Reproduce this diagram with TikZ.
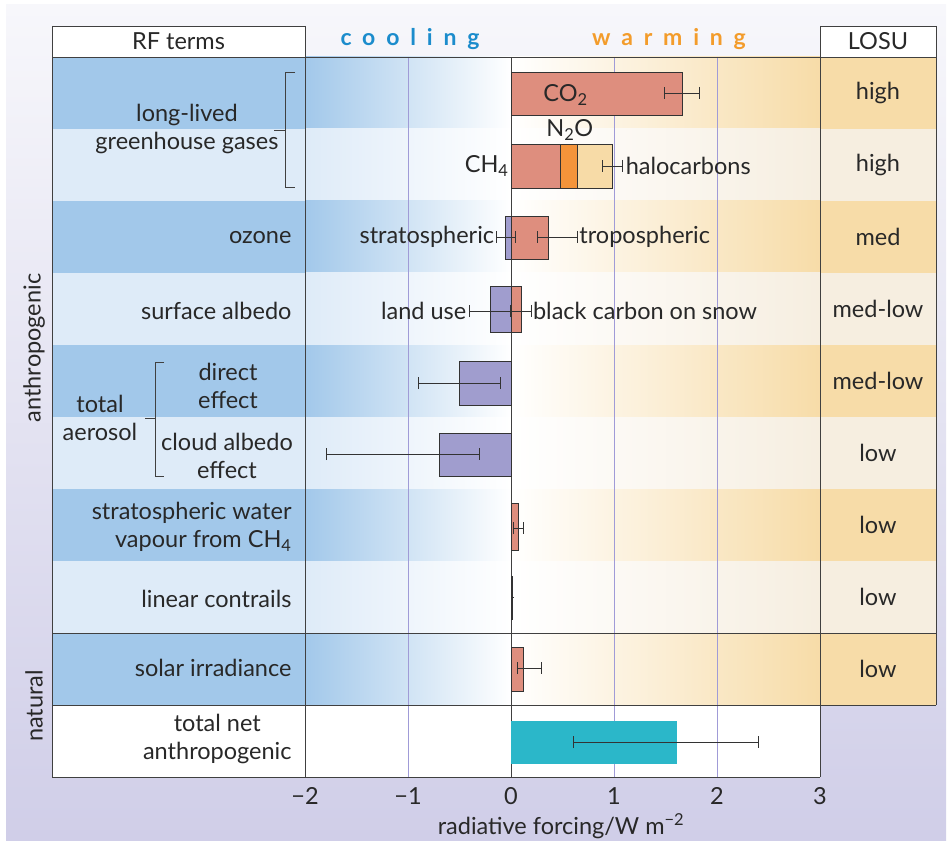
\documentclass[tikz,border=0pt]{standalone}
\usepackage{fontspec}
\setmainfont{Lato}
\usetikzlibrary{arrows.meta}

\definecolor{rowdark}{RGB}{162,200,234}
\definecolor{rowlight}{RGB}{222,235,248}
\definecolor{losudark}{RGB}{247,220,168}
\definecolor{losulight}{RGB}{246,238,224}
\definecolor{bgtop}{RGB}{247,247,251}
\definecolor{bgbottom}{RGB}{208,206,232}
\definecolor{gridlav}{RGB}{160,155,215}
\definecolor{salmon}{RGB}{222,142,126}
\definecolor{nitro}{RGB}{244,148,58}
\definecolor{halo}{RGB}{247,219,167}
\definecolor{coolbar}{RGB}{160,157,206}
\definecolor{netteal}{RGB}{43,183,201}
\definecolor{txt}{RGB}{40,40,40}
\definecolor{coolblue}{RGB}{27,140,204}
\definecolor{warmorange}{RGB}{243,156,43}

\tikzset{
  frame/.style={draw=black!75, line width=0.9pt},
  headbox/.style={frame, fill=white, minimum height=31pt, inner sep=0pt},
  bar/.style={draw=black!80, line width=0.8pt},
  errbar/.style={{Bar[width=12pt]}-{Bar[width=12pt]}, line width=0.8pt, black!80},
  term/.style={anchor=east, align=right},
  pair/.style={align=center},
  spaced/.style={font=\fontsize{23}{26}\selectfont\bfseries\addfontfeature{LetterSpace=47}}
}

\begin{document}
\begin{tikzpicture}[x=1pt, y=-1pt, font=\fontsize{23.5}{28}\selectfont, text=txt]
\useasboundingbox (0,0) rectangle (951,845);
% background
\shade[top color=bgtop, bottom color=bgbottom] (6,5) rectangle (946,840);

% rows
\foreach \i in {1,...,9}{
  \pgfmathsetmacro{\ytop}{57+72*(\i-1)}
  \ifodd\i \def\rc{rowdark}\def\lc{losudark}\else \def\rc{rowlight}\def\lc{losulight}\fi
  \fill[\rc] (52,\ytop) rectangle (305,\ytop+72);
  \shade[left color=\rc, right color=white] (305,\ytop) rectangle (511,\ytop+72);
  \shade[left color=white, right color=\lc] (511,\ytop) rectangle (820,\ytop+72);
  \fill[\lc] (820,\ytop) rectangle (936,\ytop+72);
}
\fill[white] (52,705) rectangle (820,777);

% grid
\foreach \v in {-1,1,2}
  \draw[gridlav, line width=0.6pt] ({511+103*\v},57) -- ({511+103*\v},777);

% frame
\draw[frame] (52,57) -- (936,57);
\draw[frame] (52,633) -- (936,633);
\draw[frame] (52,705) -- (936,705);
\draw[frame] (52,26) -- (52,777) -- (820,777);
\draw[frame] (305,26) -- (305,777);
\draw[frame] (820,26) -- (820,777);
\draw[frame] (936,26) -- (936,705);
\draw[frame] (511,57) -- (511,777);

% headers
\node[headbox, minimum width=253pt] (rfhead) at (178.5,41.5) {RF terms};
\node[headbox, minimum width=116pt] (losuhead) at (878,41.5) {LOSU};
\node[spaced, text=coolblue] (cooling) at (410,39) {cooling};
\node[spaced, text=warmorange] (warming) at (669,39) {warming};

% RF terms
\node[pair, anchor=east] (ghg) at (282,129) {long-lived\\greenhouse gases};
\draw[frame] (295,72) -- (285,72) -- (285,187) -- (295,187);
\draw[frame] (274,130) -- (285,130);
\node[term] (ozone) at (295,238) {ozone};
\node[term] (albedo) at (295,311) {surface albedo};
\node[pair] (direct) at (228,386) {direct\\effect};
\node[pair] (cloud) at (227,456) {cloud albedo\\effect};
\node[pair] (aerosol) at (100,418) {total\\aerosol};
\draw[frame] (164,362) -- (155,362) -- (155,476) -- (164,476);
\draw[frame] (145,418) -- (155,418);
\node[term] (water) at (295,527) {stratospheric water\\vapour from CH\textsubscript{4}};
\node[term] (contrails) at (295,599) {linear contrails};
\node[term] (solar) at (295,668) {solar irradiance};
\node[pair, anchor=east] (net) at (295,739) {total net\\anthropogenic};
\node[rotate=90] (anthro) at (34,348) {anthropogenic};
\node[rotate=90] (natural) at (34,706) {natural};

% LOSU
\foreach \r/\t in {1/high,2/high,3/med,4/med-low,5/med-low,6/low,7/low,8/low,9/low}
  \node (losu\r) at (878,{57+72*(\r-0.5)}) {\t};

% bars
\begin{scope}[xshift=511pt, x=103pt]
  \draw[bar, fill=salmon] (0,72) rectangle (1.66,115);
  \draw[errbar] (1.49,93) -- (1.83,93);
  \node (co2) at (0.53,95) {CO\textsubscript{2}};

  \draw[bar, fill=salmon] (0,144) rectangle (0.48,188);
  \draw[bar, fill=nitro] (0.48,144) rectangle (0.64,188);
  \draw[bar, fill=halo] (0.64,144) rectangle (0.98,188);
  \draw[errbar] (0.88,166) -- (1.09,166);
  \node[anchor=east] (ch4) at (0.01,166) {CH\textsubscript{4}};
  \node (n2o) at (0.57,130) {N\textsubscript{2}O};
  \node[anchor=west] (halocarbons) at (1.08,166) {halocarbons};

  \draw[bar, fill=coolbar] (-0.05,216) rectangle (0,259);
  \draw[bar, fill=salmon] (0,216) rectangle (0.36,259);
  \draw[errbar] (-0.15,237) -- (0.05,237);
  \draw[errbar] (0.25,237) -- (0.65,237);
  \node[anchor=east] (strato) at (-0.13,237) {stratospheric};
  \node[anchor=west] (tropo) at (0.63,237) {tropospheric};

  \draw[bar, fill=coolbar] (-0.2,286) rectangle (0,332);
  \draw[bar, fill=salmon] (0,286) rectangle (0.1,332);
  \draw[errbar] (-0.41,311) -- (0,311);
  \draw[errbar] (0,311) -- (0.2,311);
  \node[anchor=east] (landuse) at (-0.4,311) {land use};
  \node[anchor=west] (bcsnow) at (0.18,311) {black carbon on snow};

  \draw[bar, fill=coolbar] (-0.5,361) rectangle (0,405);
  \draw[errbar] (-0.9,383) -- (-0.1,383);

  \draw[bar, fill=coolbar] (-0.7,433) rectangle (0,476);
  \draw[errbar] (-1.8,454) -- (-0.3,454);

  \draw[bar, fill=salmon] (0,503) rectangle (0.07,550);
  \draw[errbar] (0.02,528) -- (0.12,528);

  \draw[bar, fill=salmon] (0,576) rectangle (0.01,619);
  \draw[line width=0.8pt, black!80] (0,597) -- (0.03,597);

  \draw[bar, fill=salmon] (0,647) rectangle (0.12,691);
  \draw[errbar] (0.06,668) -- (0.3,668);

  \fill[netteal] (0,721) rectangle (1.61,764);
  \draw[errbar] (0.6,742) -- (2.41,742);
\end{scope}

% axis
\foreach \v/\lab in {-2/−2,-1/−1,0/0,1/1,2/2,3/3}
  \node (tick\v) at ({511+103*\v},796) {\lab};
\node (xlabel) at (561,826) {radiative forcing/W m\textsuperscript{−2}};
\end{tikzpicture}
\end{document}
